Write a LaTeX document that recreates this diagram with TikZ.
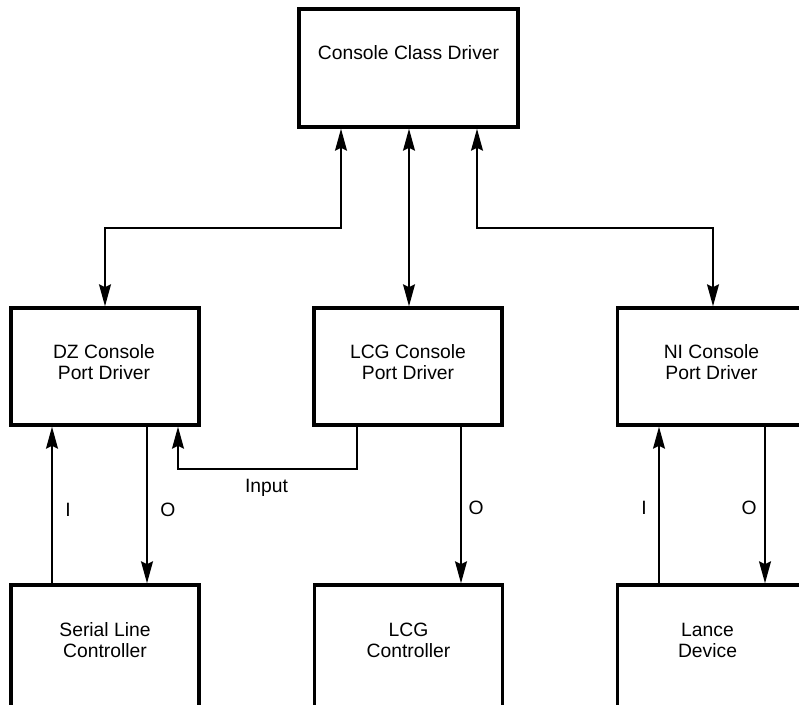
\documentclass[tikz,border=0pt]{standalone}
\usepackage{fontspec}
\setmainfont{Liberation Sans}
\usetikzlibrary{arrows.meta}
\begin{document}
\begin{tikzpicture}[x=1pt,y=-1pt,
  box/.style={draw=black,line width=3.5pt,rectangle,inner sep=0pt,minimum width=188pt,minimum height=117pt},
  txt/.style={align=center,inner sep=0pt,font=\fontsize{19.3}{21}\selectfont},
  conn/.style={draw=black,line width=1.6pt},
  tip/.tip={Stealth[length=22pt,width=12pt,inset=3pt]}]
\path[use as bounding box] (0,0) rectangle (799,704);
\clip (0,0) rectangle (799,704);
% boxes
\node[box,minimum width=219pt,minimum height=118pt] (ccd) at (408.5,68) {};
\node[box] (dz) at (105,366.5) {};
\node[box] (lcg) at (408,366.5) {};
\node[box] (ni) at (711.5,366.5) {};
\node[box,minimum height=130pt] (slc) at (105,650) {};
\node[box,minimum height=130pt] (lcgc) at (408.5,650) {};
\node[box,minimum height=130pt] (lance) at (711.5,650) {};
% texts
\node[txt] (ccdt) at (408.5,53) {Console Class Driver};
\node[txt] (dzt) at (104,362.5) {DZ Console\\Port Driver};
\node[txt] (lcgt) at (408,362.5) {LCG Console\\Port Driver};
\node[txt] (nit) at (711.5,362.5) {NI Console\\Port Driver};
\node[txt] (slct) at (105,640) {Serial Line\\Controller};
\node[txt] (lcgct) at (408.5,640) {LCG\\Controller};
\node[txt] (lancet) at (707.5,640) {Lance\\Device};
% connectors
\draw[conn,{tip}-{tip}] (341,0 |- ccd.south) -- (341,228) -| (dz.north);
\draw[conn,{tip}-{tip}] (409,0 |- ccd.south) -- (409,0 |- lcg.north);
\draw[conn,{tip}-{tip}] (477,0 |- ccd.south) -- (477,228) -| (713,0 |- ni.north);
\draw[conn,-{tip}] (52,0 |- slc.north) -- (52,0 |- dz.south);
\draw[conn,-{tip}] (147,0 |- dz.south) -- (147,0 |- slc.north);
\draw[conn,-{tip}] (357,0 |- lcg.south) -- (357,469) -| (178,0 |- dz.south);
\draw[conn,-{tip}] (461,0 |- lcg.south) -- (461,0 |- lcgc.north);
\draw[conn,-{tip}] (659,0 |- lance.north) -- (659,0 |- ni.south);
\draw[conn,-{tip}] (765,0 |- ni.south) -- (765,0 |- lance.north);
% labels
\node[txt] (li1) at (68,510) {I};
\node[txt] (lo1) at (168,510) {O};
\node[txt] (lin) at (266.5,488) {Input};
\node[txt] (lo2) at (476,508) {O};
\node[txt] (li3) at (644,508) {I};
\node[txt] (lo3) at (749,508) {O};
\end{tikzpicture}
\end{document}
